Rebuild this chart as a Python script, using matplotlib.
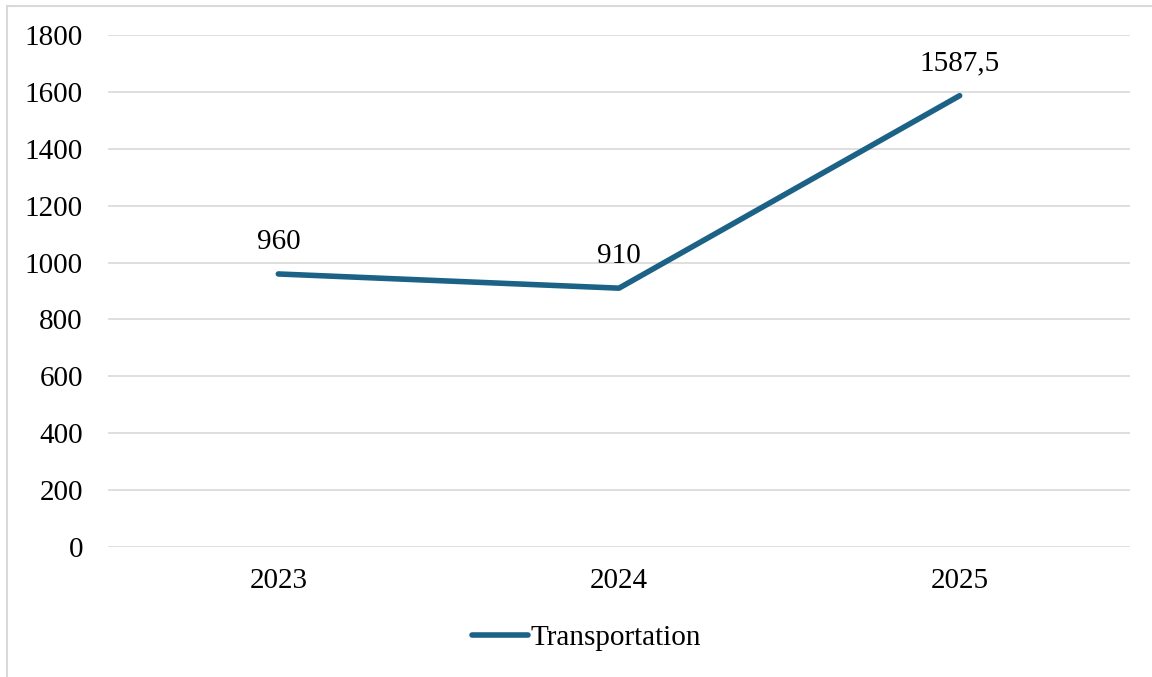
import matplotlib
matplotlib.use("Agg")
import matplotlib.pyplot as plt
from matplotlib.lines import Line2D

plt.rcParams['font.family'] = ['Liberation Serif', 'DejaVu Serif']

years = ["2023", "2024", "2025"]
transportation = [960, 910, 1587.5]
value_labels = ["960", "910", "1587,5"]
y_ticks = [0, 200, 400, 600, 800, 1000, 1200, 1400, 1600, 1800]

W, H = 1152, 677
fig = plt.figure(figsize=(W / 100, H / 100), dpi=100)
ax = fig.add_axes([108 / W, 1 - 546.7 / H, 1022 / W, 511.4 / H])

line_color = '#1B6286'
grid_color = '#D9D9D9'
fs = 21

x = list(range(len(years)))
ax.plot(x, transportation, color=line_color, lw=4.0,
        solid_capstyle='round', solid_joinstyle='round',
        label='Transportation', zorder=3)

for xi, v, lab in zip(x, transportation, value_labels):
    ax.annotate(lab, (xi, v), xytext=(0, 25), textcoords='offset pixels',
                ha='center', va='baseline', fontsize=fs, color='black')

ax.set_xlim(-0.5, len(years) - 0.5)
ax.set_ylim(0, 1800)
ax.set_xticks(x)
ax.set_xticklabels(years)
ax.set_yticks(y_ticks)
ax.set_yticklabels([str(t) for t in y_ticks])

ax.tick_params(axis='both', length=0, labelsize=fs, colors='black')
ax.tick_params(axis='y', pad=18)
ax.tick_params(axis='x', pad=15)

ax.grid(axis='y', color=grid_color, lw=1.2)
ax.set_axisbelow(True)
for s in ax.spines.values():
    s.set_visible(False)

fig.legend(loc='center', bbox_to_anchor=(586.5 / W, 1 - 638 / H),
           frameon=False, fontsize=fs, handlelength=1.92,
           handletextpad=0.1, borderpad=0, borderaxespad=0)

# chart frame (top and left edges)
fig.add_artist(Line2D([7 / W, 1.0], [1 - 6 / H, 1 - 6 / H],
                      transform=fig.transFigure, color=grid_color, lw=1.5))
fig.add_artist(Line2D([7 / W, 7 / W], [0.0, 1 - 6 / H],
                      transform=fig.transFigure, color=grid_color, lw=1.5))

fig.savefig('out.png', dpi=100)
